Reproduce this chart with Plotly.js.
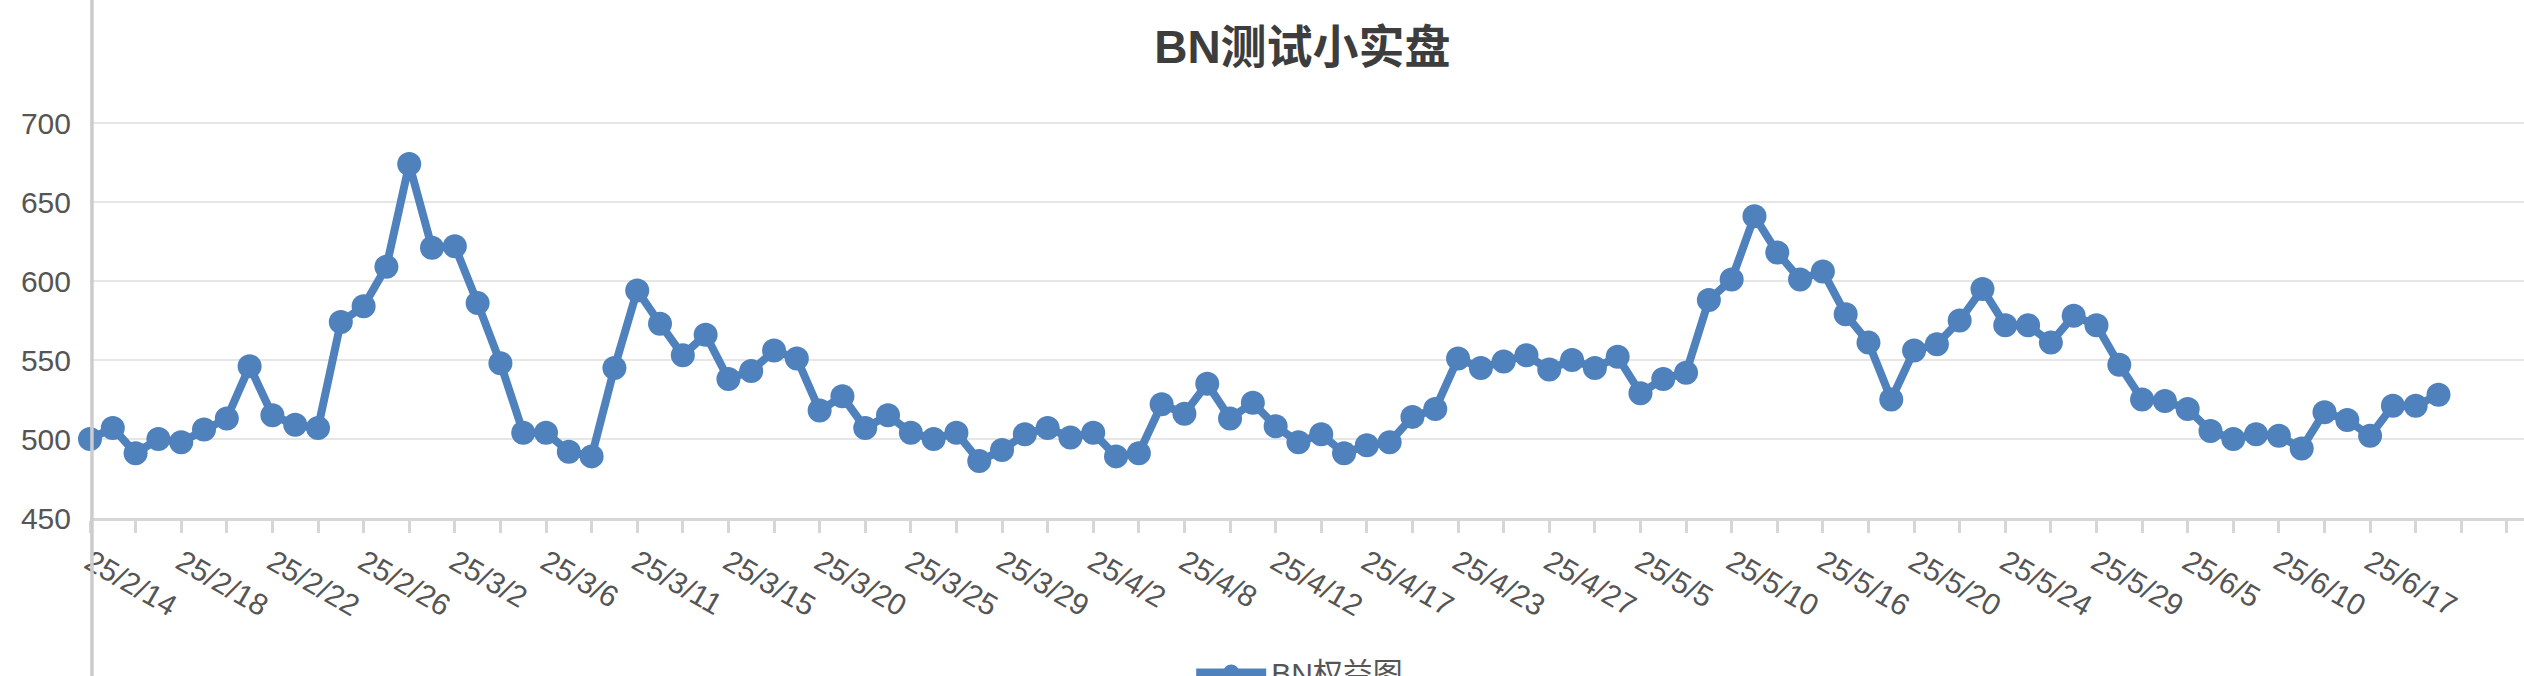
<!DOCTYPE html>
<html>
<head>
<meta charset="utf-8">
<script src="https://cdn.plot.ly/plotly-3.0.1.min.js"></script>
<style>
  html, body { margin: 0; padding: 0; background: #fff; }
  #gd { width: 2524px; height: 676px; }
</style>
</head>
<body>
<div id="gd"></div>
<script>
// category dates on the x axis (last four have no value yet)
const dates = [
  '25/2/14','25/2/15','25/2/16','25/2/17','25/2/18','25/2/19','25/2/20','25/2/21',
  '25/2/22','25/2/23','25/2/24','25/2/25','25/2/26','25/2/27','25/2/28','25/3/1',
  '25/3/2','25/3/3','25/3/4','25/3/5','25/3/6','25/3/7','25/3/8','25/3/10',
  '25/3/11','25/3/12','25/3/13','25/3/14','25/3/15','25/3/16','25/3/18','25/3/19',
  '25/3/20','25/3/21','25/3/22','25/3/24','25/3/25','25/3/26','25/3/27','25/3/28',
  '25/3/29','25/3/30','25/3/31','25/4/1','25/4/2','25/4/3','25/4/5','25/4/7',
  '25/4/8','25/4/9','25/4/10','25/4/11','25/4/12','25/4/13','25/4/14','25/4/16',
  '25/4/17','25/4/18','25/4/20','25/4/22','25/4/23','25/4/24','25/4/25','25/4/26',
  '25/4/27','25/4/28','25/4/30','25/5/2','25/5/5','25/5/6','25/5/8','25/5/9',
  '25/5/10','25/5/12','25/5/13','25/5/15','25/5/16','25/5/17','25/5/18','25/5/19',
  '25/5/20','25/5/21','25/5/22','25/5/23','25/5/24','25/5/26','25/5/27','25/5/28',
  '25/5/29','25/5/31','25/6/2','25/6/4','25/6/5','25/6/6','25/6/8','25/6/9',
  '25/6/10','25/6/12','25/6/13','25/6/16','25/6/17','25/6/18','25/6/19','25/6/20',
  '25/6/21','25/6/22','25/6/23','25/6/24'
];

// BN权益图 values
const equity = [
  500,507,491,500,498,506,513,546,515,509,507,574,584,609,674,621,622,586,548,504,
  504,492,489,545,594,573,553,566,538,543,556,551,518,527,507,515,504,500,504,486,
  493,503,507,501,504,489,491,522,516,535,513,523,508,498,503,491,496,498,514,519,
  551,545,549,553,544,550,545,552,529,538,542,588,601,641,618,601,606,579,561,525,
  556,560,575,595,572,572,561,578,572,547,525,524,519,505,500,503,502,494,517,512,
  502,521,521,528
];

const yTicks = [450, 500, 550, 600, 650, 700];

const yValues = equity.concat(dates.slice(equity.length).map(() => null));
const xTickVals = dates.filter((d, i) => i % 2 === 0);
const xTickText = dates
  .map((d, i) => (i % 4 === 0 && i < equity.length ? d : ''))
  .filter((d, i) => i % 2 === 0);

const data = [{
  x: dates,
  y: yValues,
  name: 'BN权益图',
  mode: 'lines+markers',
  type: 'scatter',
  cliponaxis: false,
  line: { color: '#4f81bd', width: 8 },
  marker: { color: '#4f81bd', size: 24 }
}];

const tickFont = { family: '"Liberation Sans", Arial, sans-serif', size: 30, color: '#555555' };

const layout = {
  width: 2524,
  height: 676,
  paper_bgcolor: '#ffffff',
  plot_bgcolor: '#ffffff',
  margin: { l: 90, r: 0, t: 44, b: 158, autoexpand: false },
  title: {
    text: 'BN测试小实盘',
    x: 0.516, xref: 'container', xanchor: 'center',
    y: 0.93, yref: 'container', yanchor: 'middle',
    font: { family: '"Liberation Sans", Arial, "Noto Sans CJK SC", sans-serif', size: 46, weight: 'bold', color: '#3d3d3d' }
  },
  xaxis: {
    type: 'category',
    range: [0, 106.75],
    tickmode: 'array',
    tickvals: xTickVals,
    ticktext: xTickText,
    tickangle: 30,
    tickfont: tickFont,
    ticks: 'outside',
    ticklen: 12,
    tickwidth: 3,
    tickcolor: '#d6d6d6',
    showline: true,
    linecolor: '#d6d6d6',
    linewidth: 3,
    showgrid: false,
    zeroline: false
  },
  yaxis: {
    range: [450, 750],
    tickmode: 'array',
    tickvals: yTicks,
    tickfont: tickFont,
    ticklabelstandoff: 18,
    showgrid: true,
    gridcolor: '#e6e6e6',
    gridwidth: 2.5,
    zeroline: false,
    showline: false
  },
  shapes: [{
    type: 'line', xref: 'paper', yref: 'paper',
    x0: 0.0008, x1: 0.0008, y0: -1, y1: 2,
    line: { color: '#cccccc', width: 3.5 }
  }],
  showlegend: true,
  legend: {
    orientation: 'h',
    x: 0.497, xanchor: 'center',
    y: -0.326, yanchor: 'middle',
    font: { family: '"Liberation Sans", Arial, "Noto Sans CJK SC", sans-serif', size: 30, color: '#555555' },
    itemwidth: 70
  }
};

Plotly.newPlot('gd', data, layout, { displayModeBar: false, staticPlot: true });
</script>
</body>
</html>
